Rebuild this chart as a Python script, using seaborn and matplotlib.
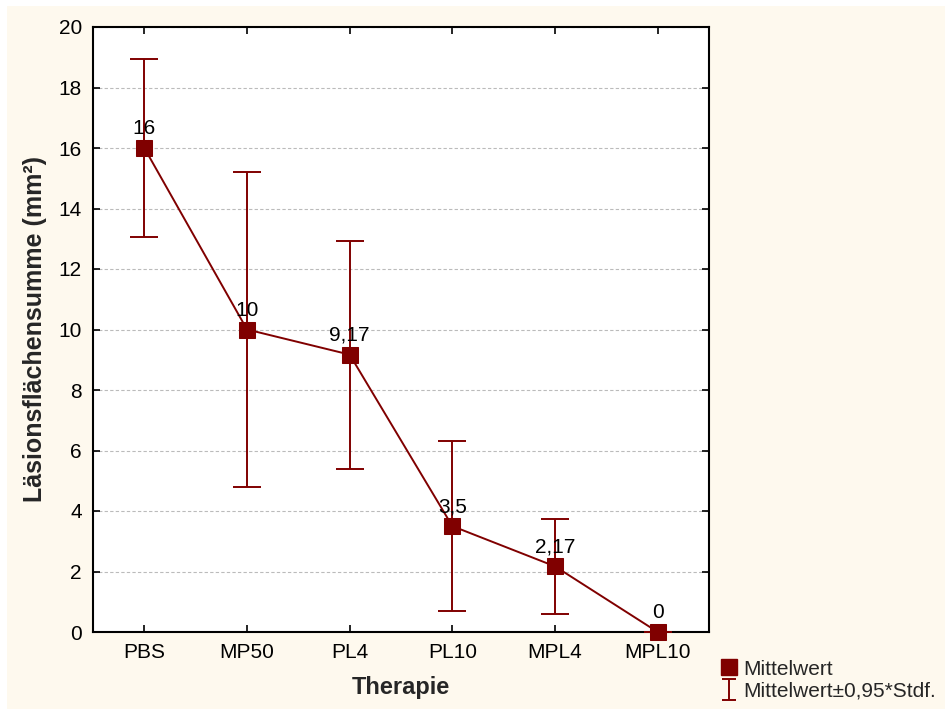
import matplotlib
matplotlib.use("Agg")
import matplotlib.pyplot as plt
from matplotlib.lines import Line2D
from matplotlib.patches import Rectangle
import seaborn as sns
import pandas as pd
import numpy as np

# Therapy groups, means and half-widths of the ±0.95*Stdf. interval
therapie = ["PBS", "MP50", "PL4", "PL10", "MPL4", "MPL10"]
mittelwert = [16.0, 10.0, 9.17, 3.5, 2.17, 0.0]
fehler = [2.95, 5.22, 3.77, 2.82, 1.56, 0.0]
wert_labels = ["16", "10", "9,17", "3,5", "2,17", "0"]
y_ticks = [0, 2, 4, 6, 8, 10, 12, 14, 16, 18, 20]

df = pd.DataFrame({"Therapie": therapie, "Mittelwert": mittelwert, "Fehler": fehler})
df["pos"] = np.arange(len(df))

sns.set_style("white")
plt.rcParams["font.family"] = ["Liberation Sans", "DejaVu Sans"]

dark_red = "#800000"
cream = "#FEF9EE"

fig = plt.figure(figsize=(9.47, 7.09), dpi=100, facecolor="white")
fig.patches.append(Rectangle((7 / 947, 0), 1 - 9 / 947, 1 - 6 / 709,
                             transform=fig.transFigure, facecolor=cream,
                             edgecolor="none", zorder=-10))
ax = fig.add_axes([93 / 947, 77 / 709, 616 / 947, 605 / 709])
ax.set_facecolor("white")

# error bars
ax.errorbar(df["pos"], df["Mittelwert"], yerr=df["Fehler"], fmt="none",
            ecolor=dark_red, elinewidth=1.4, capsize=10, capthick=1.4, zorder=3)

# mean line with square markers
sns.lineplot(data=df, x="pos", y="Mittelwert", ax=ax, color=dark_red,
             linewidth=1.4, marker="s", markersize=11, markeredgecolor=dark_red,
             markerfacecolor=dark_red, zorder=4, clip_on=False)

for p, m, lab in zip(df["pos"], df["Mittelwert"], wert_labels):
    ax.annotate(lab, (p, m), xytext=(0, 7), textcoords="offset points",
                ha="center", va="bottom", fontsize=15, color="black", zorder=5)

ax.set_xlim(-0.5, len(therapie) - 0.5)
ax.set_ylim(0, 20)
ax.set_xticks(df["pos"])
ax.set_xticklabels(therapie, fontsize=15)
ax.set_yticks(y_ticks)
ax.set_yticklabels([str(t) for t in y_ticks], fontsize=15)
ax.yaxis.grid(True, linestyle=(0, (3, 2)), color="#BBBBBB", linewidth=0.8)
ax.xaxis.grid(False)
ax.set_axisbelow(True)
ax.tick_params(axis="both", direction="in", length=5, width=1.2, colors="black",
               top=True, right=True, bottom=True, left=True, pad=8)
for s in ax.spines.values():
    s.set_color("black")
    s.set_linewidth(1.5)

ax.set_xlabel("Therapie", fontsize=17, fontweight="bold", labelpad=10)
ax.set_ylabel("Läsionsflächensumme (mm²)", fontsize=18, fontweight="bold", labelpad=8)

# legend keys: square for the mean, narrow I-beam for the interval
eb_key = ax.errorbar([np.nan], [np.nan], yerr=[1.0], fmt="none", ecolor=dark_red,
                     elinewidth=1.4, capsize=5, capthick=1.4)
handles = [
    Line2D([], [], color=dark_red, marker="s", markersize=11, linestyle="none"),
    eb_key,
]
fig.legend(handles, ["Mittelwert", "Mittelwert±0,95*Stdf."], loc="lower left",
           bbox_to_anchor=(704 / 947, -0.009), frameon=False, fontsize=15,
           handletextpad=0.2, borderaxespad=0.3, labelspacing=0.15, handlelength=1.0)

fig.savefig("out.png", dpi=100, facecolor=fig.get_facecolor())
